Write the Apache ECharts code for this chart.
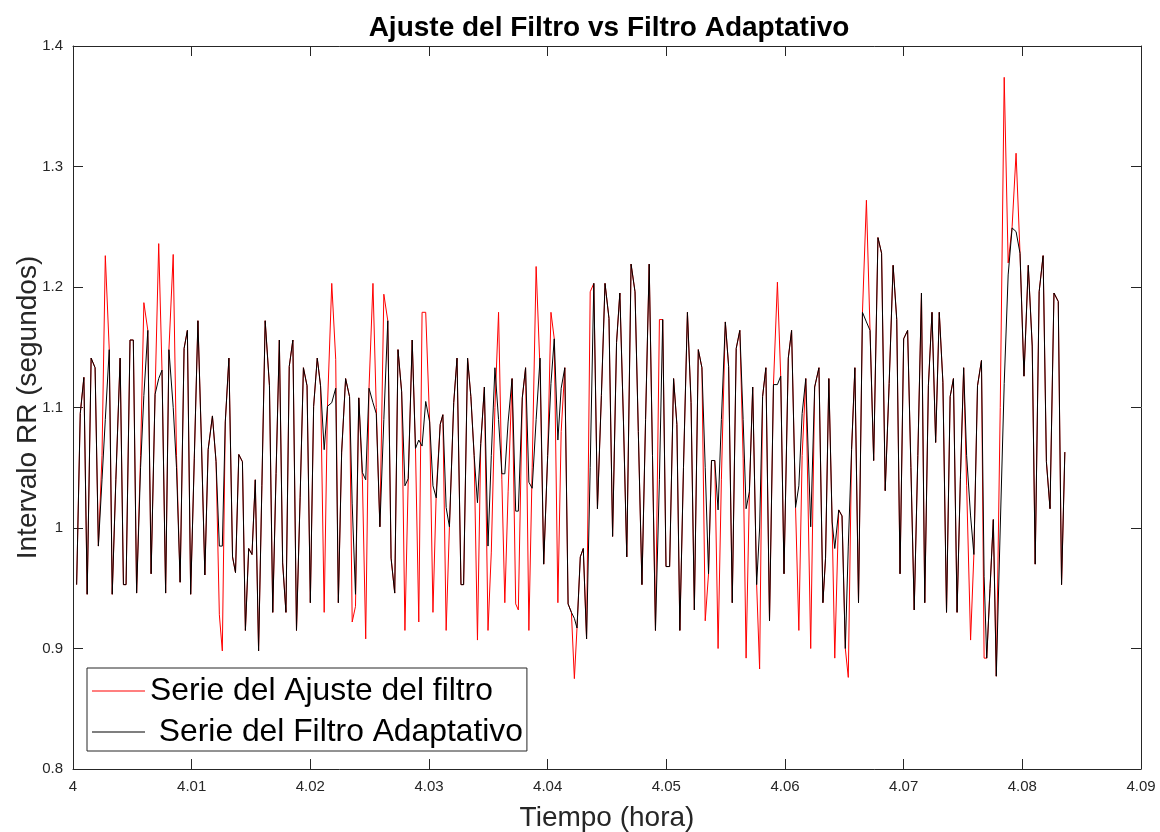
<!DOCTYPE html>
<html>
<head>
<meta charset="utf-8">
<script src="https://cdn.jsdelivr.net/npm/echarts@6/dist/echarts.min.js"></script>
<style>
  html, body { margin: 0; padding: 0; background: #fff; }
  #chart { width: 1160px; height: 832px; }
</style>
</head>
<body>
<div id="chart"></div>
<script>
// Beat times, seconds after 4 h
const timeSec = [
  1.1, 2.2, 3.3, 4.3, 5.5, 6.7, 7.7, 8.8, 9.8, 11.0, 11.9, 13.0, 14.3, 15.3, 16.1, 17.3, 18.3, 19.3, 20.5, 21.5, 22.7, 23.7,
  24.9, 26.0, 27.0, 28.1, 29.1, 30.4, 31.4, 32.5, 33.7, 34.7, 35.7, 36.8, 37.9, 39.0, 40.0, 41.0, 42.3, 43.4, 44.4, 45.3, 46.2, 47.3, 48.4, 49.3,
  50.3, 51.4, 52.3, 53.3, 54.3, 55.3, 56.3, 57.3, 58.3, 59.6, 60.6, 61.6, 62.6, 63.6, 64.6, 65.6, 66.7, 67.8, 68.9, 69.9, 71.0, 72.0, 73.0, 74.1,
  75.1, 76.2, 77.2, 78.5, 79.7, 80.5, 81.5, 82.7, 83.9, 84.7, 85.7, 86.7, 87.8, 88.8, 89.8, 91.0, 92.0, 93.1, 94.3, 95.5, 96.5, 97.6, 98.6,
  99.7, 100.7, 101.7, 102.9, 103.9, 104.9, 105.9, 107.0, 108.2, 109.2, 110.2, 111.4, 112.2, 113.2, 114.2, 115.5, 116.5, 117.7, 118.5, 119.7, 120.7, 121.7, 122.7, 123.7, 124.8,
  125.9, 126.9, 128.0, 129.1, 130.1, 131.0, 132.0, 133.2, 134.3, 135.1, 136.3, 137.3, 138.3, 139.3, 140.5, 141.7, 142.8, 144.0, 145.0, 146.0, 147.1, 148.1, 149.2,
  150.2, 151.2, 152.1, 152.9, 153.9, 154.8, 155.8, 156.9, 158.0, 159.1, 160.3, 161.4, 162.6, 163.7, 164.9, 165.9, 167.0, 168.0, 169.3, 170.5, 171.5, 172.6, 173.7,
  174.8, 175.8, 176.7, 177.9, 178.9, 179.9, 181.0, 182.2, 183.2, 184.1, 185.2, 186.4, 187.5, 188.5, 189.7, 190.8, 191.8, 192.8, 193.7, 194.7, 195.7, 196.7, 197.9, 198.9,
  200.0, 201.2, 202.3, 203.3, 204.2, 205.2, 206.2, 207.4, 208.3, 209.2, 210.2, 211.3, 212.5, 213.7, 214.7, 215.7, 217.0, 218.0, 219.2, 220.2, 221.2, 222.3, 223.8,
  225.0, 226.3, 227.5, 228.3, 229.3, 230.3, 231.1, 232.3, 233.3, 234.3, 235.2, 236.2, 237.2, 238.3, 239.5, 240.7, 241.8, 242.9, 244.2, 245.3, 246.4, 247.6, 248.8,
  249.9, 250.9, 252.0, 253.2, 254.2, 255.2, 256.3, 257.4, 258.4, 259.5, 260.6, 261.7, 262.8, 263.9, 265.0, 266.1, 267.1, 268.2, 269.2, 270.2, 271.1, 272.3, 273.3,
  274.4, 275.6, 276.4, 277.2, 278.2, 279.2, 280.1, 281.3, 282.5, 283.7, 284.9, 286.1, 287.3, 288.5, 289.8, 291.0, 291.9, 293.1, 294.3, 295.3, 296.4, 297.6, 298.9, 299.9, 300.9
];

// RR interval (s) after the filter fit
const ajusteFiltro = [
  0.953, 1.095, 1.125, 0.945, 1.141, 1.133, 0.985, 1.060, 1.226, 1.148, 0.945, 1.040, 1.141, 0.953, 0.953, 1.156, 1.156, 0.946, 1.060, 1.187, 1.164, 0.962,
  1.111, 1.236, 1.131, 0.946, 1.148, 1.227, 1.060, 0.955, 1.149, 1.164, 0.945, 1.058, 1.172, 1.068, 0.961, 1.065, 1.093, 1.055, 0.928, 0.898, 1.088, 1.141, 0.976, 0.963,
  1.061, 1.055, 0.915, 0.983, 0.978, 1.040, 0.898, 1.035, 1.172, 1.118, 0.930, 1.045, 1.156, 0.971, 0.930, 1.134, 1.156, 0.915, 1.025, 1.133, 1.118, 0.938, 1.101, 1.141,
  1.118, 0.930, 1.101, 1.203, 1.140, 0.938, 1.063, 1.124, 1.109, 0.922, 0.935, 1.108, 1.040, 0.908, 1.116, 1.203, 1.100, 1.001, 1.194, 1.172, 0.975, 0.946, 1.148,
  1.113, 0.915, 1.040, 1.156, 1.066, 0.922, 1.179, 1.179, 1.088, 0.930, 1.030, 1.086, 1.094, 0.915, 1.001, 1.104, 1.141, 0.953, 0.953, 1.141, 1.109, 1.060, 0.907, 1.070, 1.117,
  0.915, 0.980, 1.100, 1.179, 1.040, 0.938, 1.030, 1.124, 0.937, 0.932, 1.108, 1.133, 0.915, 1.050, 1.217, 1.130, 0.970, 1.060, 1.179, 1.157, 0.938, 1.080, 1.133,
  0.937, 0.930, 0.875, 0.917, 0.976, 0.983, 0.908, 1.196, 1.203, 1.016, 1.110, 1.203, 1.174, 0.993, 1.154, 1.195, 1.088, 0.976, 1.219, 1.196, 1.080, 0.953, 1.090,
  1.219, 1.060, 0.915, 1.173, 1.173, 0.968, 0.968, 1.124, 1.086, 0.915, 1.050, 1.179, 1.104, 0.932, 1.148, 1.133, 0.923, 0.962, 1.056, 1.056, 0.900, 1.040, 1.171, 1.134,
  0.938, 1.149, 1.164, 1.058, 0.892, 1.030, 1.117, 0.953, 0.883, 1.109, 1.133, 0.923, 1.119, 1.204, 1.126, 0.962, 1.141, 1.164, 1.017, 0.915, 1.060, 1.124, 0.900,
  1.117, 1.133, 0.938, 0.975, 1.124, 1.005, 0.892, 1.015, 1.010, 0.900, 0.876, 1.065, 1.133, 0.938, 1.179, 1.272, 1.164, 1.056, 1.241, 1.228, 1.031, 1.120, 1.218,
  1.173, 0.962, 1.157, 1.164, 1.050, 0.932, 1.060, 1.195, 0.938, 1.118, 1.179, 1.071, 1.179, 1.121, 0.930, 1.109, 1.124, 0.930, 1.040, 1.133, 1.035, 0.907, 0.978,
  1.118, 1.139, 0.892, 0.892, 0.950, 1.007, 0.877, 1.100, 1.374, 1.220, 1.250, 1.311, 1.228, 1.126, 1.218, 1.151, 0.970, 1.196, 1.226, 1.055, 1.016, 1.195, 1.188, 0.953, 1.063
];

// RR interval (s) from the adaptive filter
const filtroAdaptativo = [
  0.953, 1.095, 1.125, 0.945, 1.141, 1.133, 0.985, 1.040, 1.090, 1.148, 0.945, 1.040, 1.141, 0.953, 0.953, 1.156, 1.156, 0.946, 1.050, 1.110, 1.164, 0.962,
  1.111, 1.124, 1.131, 0.946, 1.148, 1.100, 1.050, 0.955, 1.149, 1.164, 0.945, 1.058, 1.172, 1.068, 0.961, 1.065, 1.093, 1.055, 0.985, 0.985, 1.088, 1.141, 0.976, 0.963,
  1.061, 1.055, 0.915, 0.983, 0.978, 1.040, 0.898, 1.035, 1.172, 1.118, 0.930, 1.045, 1.156, 0.971, 0.930, 1.134, 1.156, 0.915, 1.025, 1.133, 1.118, 0.938, 1.101, 1.141,
  1.118, 1.065, 1.101, 1.104, 1.116, 0.938, 1.063, 1.124, 1.109, 1.020, 0.945, 1.108, 1.046, 1.040, 1.116, 1.104, 1.095, 1.001, 1.090, 1.172, 0.975, 0.946, 1.148,
  1.113, 1.035, 1.041, 1.156, 1.066, 1.073, 1.068, 1.105, 1.088, 1.035, 1.025, 1.086, 1.094, 1.017, 1.001, 1.104, 1.141, 0.953, 0.953, 1.141, 1.109, 1.060, 1.021, 1.070, 1.117,
  0.985, 1.060, 1.133, 1.090, 1.045, 1.045, 1.088, 1.124, 1.014, 1.014, 1.108, 1.133, 1.038, 1.033, 1.090, 1.141, 0.970, 1.060, 1.120, 1.157, 1.073, 1.116, 1.133,
  0.937, 0.930, 0.925, 0.917, 0.976, 0.983, 0.908, 1.050, 1.203, 1.016, 1.110, 1.203, 1.174, 0.993, 1.154, 1.195, 1.088, 0.976, 1.219, 1.196, 1.080, 0.953, 1.090,
  1.219, 1.060, 0.915, 1.040, 1.173, 0.968, 0.968, 1.124, 1.086, 0.915, 1.050, 1.179, 1.104, 0.932, 1.148, 1.133, 1.050, 0.962, 1.056, 1.056, 1.015, 1.090, 1.171, 1.134,
  0.938, 1.149, 1.164, 1.090, 1.016, 1.030, 1.117, 0.953, 1.000, 1.109, 1.133, 0.923, 1.119, 1.119, 1.126, 0.962, 1.141, 1.164, 1.017, 1.035, 1.095, 1.124, 1.001,
  1.117, 1.133, 0.938, 0.975, 1.124, 1.005, 0.983, 1.015, 1.010, 0.900, 0.985, 1.065, 1.133, 0.938, 1.179, 1.171, 1.164, 1.056, 1.241, 1.228, 1.031, 1.120, 1.218,
  1.173, 0.962, 1.157, 1.164, 1.050, 0.932, 1.060, 1.195, 0.938, 1.118, 1.179, 1.071, 1.179, 1.121, 0.930, 1.109, 1.124, 0.930, 1.040, 1.133, 1.060, 1.010, 0.978,
  1.118, 1.139, 0.960, 0.892, 0.950, 1.007, 0.877, 1.000, 1.120, 1.210, 1.249, 1.246, 1.228, 1.126, 1.218, 1.151, 0.970, 1.196, 1.226, 1.055, 1.016, 1.195, 1.188, 0.953, 1.063
];

const seriesNames = ['Serie del Ajuste del filtro', ' Serie del Filtro Adaptativo'];
const xTicks = { min: 4.0, max: 4.09, step: 0.01 };
const yTicks = { min: 0.8, max: 1.4, step: 0.1 };

const hours = timeSec.map(s => 4 + s / 3600);
const pairs = vals => hours.map((h, i) => [h, vals[i]]);

const FONT = 'Liberation Sans, Arial, Helvetica, sans-serif';
const AXIS_COLOR = '#262626';
const fmt = v => String(parseFloat(v.toFixed(2)));

const baseX = {
  type: 'value', min: xTicks.min, max: xTicks.max, interval: xTicks.step,
  splitLine: { show: false },
  axisLine: { show: true, onZero: false, lineStyle: { color: AXIS_COLOR, width: 1 } },
  axisTick: { show: true, inside: true, length: 10, lineStyle: { color: AXIS_COLOR } }
};
const baseY = {
  type: 'value', min: yTicks.min, max: yTicks.max, interval: yTicks.step,
  splitLine: { show: false },
  axisLine: { show: true, onZero: false, lineStyle: { color: AXIS_COLOR, width: 1 } },
  axisTick: { show: true, inside: true, length: 10, lineStyle: { color: AXIS_COLOR } }
};

const chart = echarts.init(document.getElementById('chart'), null, { renderer: 'canvas' });
chart.setOption({
  animation: false,
  backgroundColor: '#ffffff',
  textStyle: { fontFamily: FONT },
  title: {
    text: 'Ajuste del Filtro vs Filtro Adaptativo',
    left: 604, top: 9, textAlign: 'center',
    textStyle: { fontFamily: FONT, fontSize: 28, fontWeight: 'bold', color: '#000' }
  },
  grid: { left: 73, top: 46, right: 19, bottom: 63, containLabel: false, outerBoundsMode: 'none' },
  legend: {
    orient: 'vertical', left: 87, top: 668,
    data: seriesNames.map(n => ({ name: n, icon: 'rect' })),
    backgroundColor: '#ffffff', borderColor: AXIS_COLOR, borderWidth: 1,
    padding: [5, 4, 1, 5], itemGap: 5, itemWidth: 53, itemHeight: 1.2,
    textStyle: { fontFamily: FONT, fontSize: 31.8, color: '#000', lineHeight: 36 }
  },
  xAxis: [
    Object.assign({}, baseX, {
      position: 'bottom',
      name: 'Tiempo (hora)', nameLocation: 'middle', nameGap: 35, nameMoveOverlap: false,
      nameTextStyle: { fontFamily: FONT, fontSize: 28, color: AXIS_COLOR },
      axisLabel: { show: true, margin: 10, fontSize: 15, color: AXIS_COLOR, fontFamily: FONT, formatter: fmt }
    }),
    Object.assign({}, baseX, { position: 'top', axisLabel: { show: false } })
  ],
  yAxis: [
    Object.assign({}, baseY, {
      position: 'left',
      name: 'Intervalo RR (segundos)', nameLocation: 'middle', nameGap: 31, nameMoveOverlap: false,
      nameTextStyle: { fontFamily: FONT, fontSize: 28, color: AXIS_COLOR },
      axisLabel: { show: true, margin: 10, fontSize: 15, color: AXIS_COLOR, fontFamily: FONT, formatter: fmt }
    }),
    Object.assign({}, baseY, { position: 'right', axisLabel: { show: false } })
  ],
  series: [
    {
      name: seriesNames[0], type: 'line', xAxisIndex: 0, yAxisIndex: 0,
      data: pairs(ajusteFiltro), symbol: 'none', showSymbol: false,
      lineStyle: { color: '#ff0000', width: 1 }, itemStyle: { color: '#ff0000' }, z: 2
    },
    {
      name: seriesNames[1], type: 'line', xAxisIndex: 0, yAxisIndex: 0,
      data: pairs(filtroAdaptativo), symbol: 'none', showSymbol: false,
      lineStyle: { color: '#000000', width: 1 }, itemStyle: { color: '#000000' }, z: 3
    }
  ]
});
</script>
</body>
</html>
